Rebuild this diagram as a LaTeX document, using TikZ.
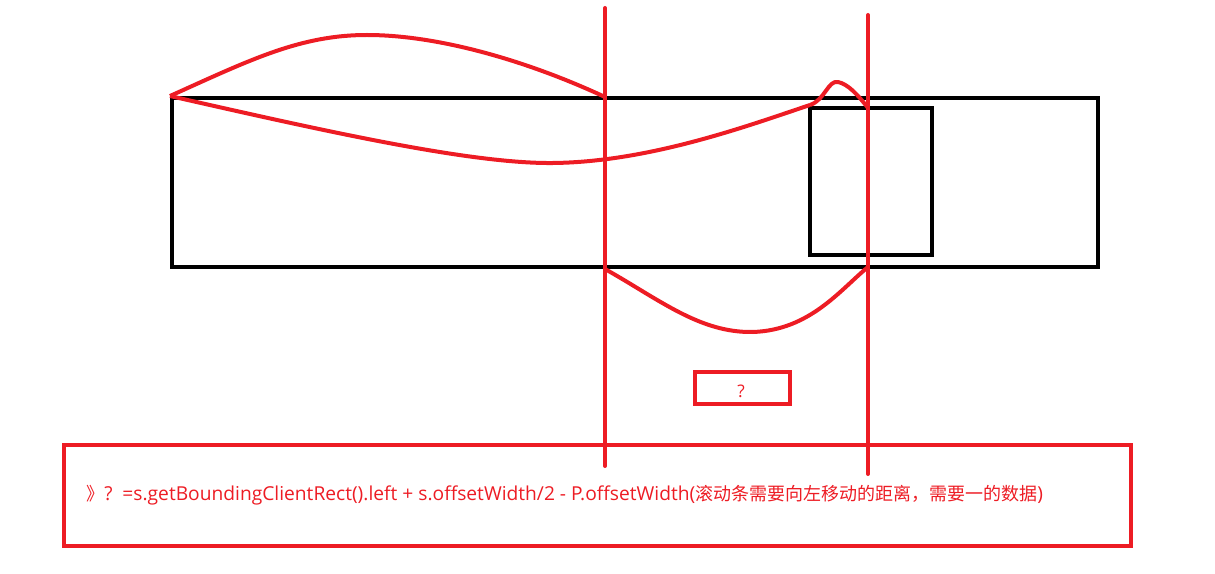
\documentclass[tikz,border=0pt]{standalone}
\usepackage{fontspec}
\setmainfont{Open Sans}
\newfontfamily\cjk{Noto Sans CJK SC}
\usepackage{tikz}

\definecolor{paintred}{HTML}{ED1C24}
\tikzset{
  blackpen/.style={line width=3pt, draw=black},
  redpen/.style={line width=3pt, draw=paintred, line cap=round},
  redcurve/.style={line width=3pt, draw=paintred, line join=round},
}
\newcommand{\cjktext}[1]{{\cjk\fontsize{13.5}{15}\selectfont #1}}

\begin{document}
\begin{tikzpicture}[x=0.75pt, y=-0.75pt]
        \useasboundingbox (0,0) rectangle (1215,574);                       %
        \coordinate (tip)   at (170,96);                                      %
        \coordinate (topA)  at (605,97);                                      %
        \coordinate (botA)  at (605,269);                                     %
        \coordinate (thumb) at (810,105);                                     %
        \coordinate (topB)  at (868,108);                                     %
        \coordinate (botB)  at (868,267);                                     %

        \draw [blackpen]  (172,98) rectangle (1098,267);                      %track
        \draw [blackpen]  (810,108) rectangle (932,255);                      %thumb box

        \draw [redcurve]  (tip) .. controls (250,60) and (300,35) .. (367,35)
                          .. controls (440,35) and (530,62) .. (topA);        %upper arc
        \draw [redcurve]  (tip) .. controls (320,130) and (470,164) .. (553,163)
                          .. controls (650,162) and (750,125) .. (thumb);     %lower arc
        \draw [redcurve]  (thumb) .. controls (825,100) and (828,80) .. (838,82)
                          .. controls (848,84) and (858,95) .. (topB);        %bump
        \draw [redcurve]  (botA) .. controls (660,300) and (700,333) .. (753,332)
                          .. controls (810,330) and (840,290) .. (botB);      %bottom arc

        \draw [redpen]    (605,8) -- (605,466);                               %
        \draw [redpen]    (868,15) -- (868,474);                              %

        \draw [line width=3pt, draw=paintred] (695,372) rectangle (790,404);  %small box
        \node [text=paintred, font=\fontsize{13}{13}\selectfont] (mark) at (741,391) {?};

        \draw [line width=3.6pt, draw=paintred] (64,445) rectangle (1131,546); %formula box
        \node [anchor=west, inner sep=0pt, text=paintred,
               font=\fontsize{14.4}{16}\selectfont] (formula) at (86,495)
          {\cjktext{》}?\ \ =s.getBoundingClientRect().left + s.offsetWidth/2 - P.offsetWidth(\cjktext{滚动条需要向左移动的距离，需要一的数据})};
\end{tikzpicture}
\end{document}
